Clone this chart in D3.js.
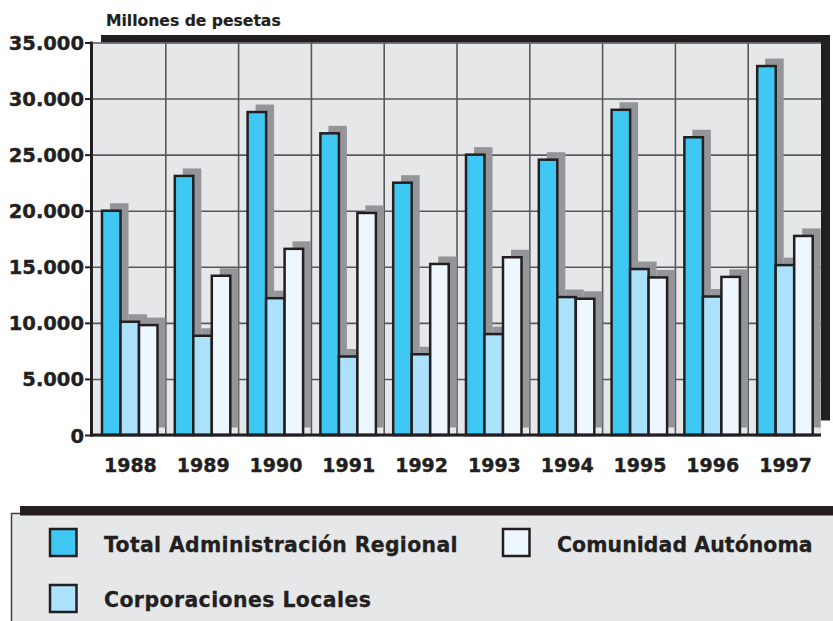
<!DOCTYPE html>
<html><head><meta charset="utf-8">
<script src="https://cdn.jsdelivr.net/npm/d3@7"></script>
<style>
html,body{margin:0;padding:0;background:#fff;}
svg{display:block;font-family:"DejaVu Sans",sans-serif;font-weight:bold;}
</style></head>
<body>
<script>
const years = ["1988","1989","1990","1991","1992","1993","1994","1995","1996","1997"];
const totalAdm    = [20000, 23100, 28800, 26900, 22500, 25000, 24550, 29000, 26550, 32900];
const corpLocales = [10100,  8850, 12200,  7000,  7200,  9000, 12300, 14800, 12350, 15150];
const comunidad   = [ 9800, 14200, 16600, 19800, 15250, 15850, 12150, 14050, 14100, 17750];
const seriesNames = ["Total Administración Regional", "Corporaciones Locales", "Comunidad Autónoma"];
const yTicks = [0, 5000, 10000, 15000, 20000, 25000, 30000, 35000];
const yTickLabels = ["0", "5.000", "10.000", "15.000", "20.000", "25.000", "30.000", "35.000"];
const unitLabel = "Millones de pesetas";

const colors = ["#40c8f4", "#abe1fa", "#eef7fd"];
const dark = "#231f20", gridCol = "#58595b", bg = "#e6e7e8", shadow = "#939598";
const FONT = "'DejaVu Sans', sans-serif";

const W = 833, H = 621;
const L = 93, R = 821, T = 42.5, B = 435;

const svg = d3.select("body").append("svg").attr("width", W).attr("height", H);

const x = d3.scaleBand().domain(years).range([L, R]).padding(0);
const x1 = d3.scaleBand().domain(seriesNames).range([9, 64.5]).padding(0);
const y = d3.scaleLinear().domain([0, 35000]).range([B, T]);

// frame shadow + background
svg.append("rect").attr("x", L + 8).attr("y", T - 7.5).attr("width", R - L + 1).attr("height", B - T - 7).attr("fill", dark);
svg.append("rect").attr("x", L).attr("y", T).attr("width", R - L).attr("height", B - T).attr("fill", bg);

// horizontal grid
const grid = svg.append("g").attr("transform", `translate(${L},0)`)
  .call(d3.axisLeft(y).tickValues(yTicks).tickSize(-(R - L)).tickFormat(""));
grid.select(".domain").remove();
grid.selectAll("line").attr("stroke", gridCol).attr("stroke-width", 1.6);

// vertical grid at band boundaries
svg.append("g").selectAll("line").data(years.slice(1)).join("line")
  .attr("x1", d => x(d)).attr("x2", d => x(d))
  .attr("y1", T).attr("y2", B)
  .attr("stroke", gridCol).attr("stroke-width", 1.6);

// y labels + short ticks
const fmtLabel = v => yTickLabels[yTicks.indexOf(v)];
const yAx = svg.append("g").attr("transform", `translate(${L},0)`)
  .call(d3.axisLeft(y).tickValues(yTicks).tickSize(8).tickPadding(1).tickFormat(fmtLabel));
yAx.select(".domain").remove();
yAx.selectAll("line").attr("stroke", dark).attr("stroke-width", 2);
yAx.selectAll("text")
  .attr("fill", dark).attr("stroke", dark).attr("stroke-width", 0.4)
  .style("font-size", "19.5px").style("font-weight", "bold")
  .style("font-family", FONT)
  .attr("dy", "0.36em");

// bars
const data = years.map((yr, i) => ({ year: yr, vals: [totalAdm[i], corpLocales[i], comunidad[i]] }));
const groups = svg.append("g").selectAll("g").data(data).join("g")
  .attr("transform", d => `translate(${x(d.year)},0)`);

groups.selectAll("rect.sh").data(d => d.vals.map((v, k) => ({ k, v }))).join("rect")
  .attr("class", "sh")
  .attr("x", d => x1(seriesNames[d.k]) + 8)
  .attr("y", d => y(d.v) - 7.5)
  .attr("width", x1.bandwidth())
  .attr("height", d => B - y(d.v))
  .attr("fill", shadow);

groups.selectAll("rect.bar").data(d => d.vals.map((v, k) => ({ k, v }))).join("rect")
  .attr("class", "bar")
  .attr("x", d => x1(seriesNames[d.k]))
  .attr("y", d => y(d.v))
  .attr("width", x1.bandwidth())
  .attr("height", d => B - y(d.v))
  .attr("fill", d => colors[d.k])
  .attr("stroke", dark).attr("stroke-width", 2.5);

// axes lines
svg.append("line").attr("x1", L - 1.5).attr("x2", L - 1.5).attr("y1", T - 1).attr("y2", B + 1.5)
  .attr("stroke", dark).attr("stroke-width", 3);
svg.append("line").attr("x1", L - 3).attr("x2", R).attr("y1", B).attr("y2", B)
  .attr("stroke", dark).attr("stroke-width", 3);

// x labels
const xAx = svg.append("g").attr("transform", `translate(0,${B})`)
  .call(d3.axisBottom(x).tickSize(0).tickPadding(0));
xAx.select(".domain").remove();
xAx.selectAll("text")
  .attr("y", 37).attr("dy", 0).attr("x", 1)
  .attr("fill", dark).attr("stroke", dark).attr("stroke-width", 0.4)
  .style("font-size", "19px").style("font-weight", "bold")
  .style("font-family", FONT);

// unit title
svg.append("text").attr("x", 106).attr("y", 26).text(unitLabel)
  .attr("fill", dark).attr("stroke", dark).attr("stroke-width", 0.2)
  .style("font-size", "15.6px");

// legend box
svg.append("rect").attr("x", 11.5).attr("y", 513.5).attr("width", 830).attr("height", 120)
  .attr("fill", bg).attr("stroke", "#414042").attr("stroke-width", 1.5);
svg.append("rect").attr("x", 20).attr("y", 506).attr("width", 820).attr("height", 9.5).attr("fill", dark);

const legendPos = [
  { sx: 50, sy: 529, tx: 104, ty: 552, ls: 0.35 },
  { sx: 50, sy: 585, tx: 104, ty: 607, ls: 0.45 },
  { sx: 503, sy: 529, tx: 557, ty: 552, ls: 0.1 }
];
const lg = svg.append("g").selectAll("g").data(seriesNames).join("g");
lg.append("rect")
  .attr("x", (d, i) => legendPos[i].sx).attr("y", (d, i) => legendPos[i].sy)
  .attr("width", 26.5).attr("height", 27)
  .attr("fill", (d, i) => colors[i]).attr("stroke", dark).attr("stroke-width", 2.5);
lg.append("text")
  .attr("x", (d, i) => legendPos[i].tx).attr("y", (d, i) => legendPos[i].ty)
  .text(d => d)
  .attr("fill", dark).attr("stroke", dark).attr("stroke-width", 0.3)
  .style("font-size", "20.4px")
  .style("letter-spacing", (d, i) => legendPos[i].ls + "px");
</script>
</body></html>
